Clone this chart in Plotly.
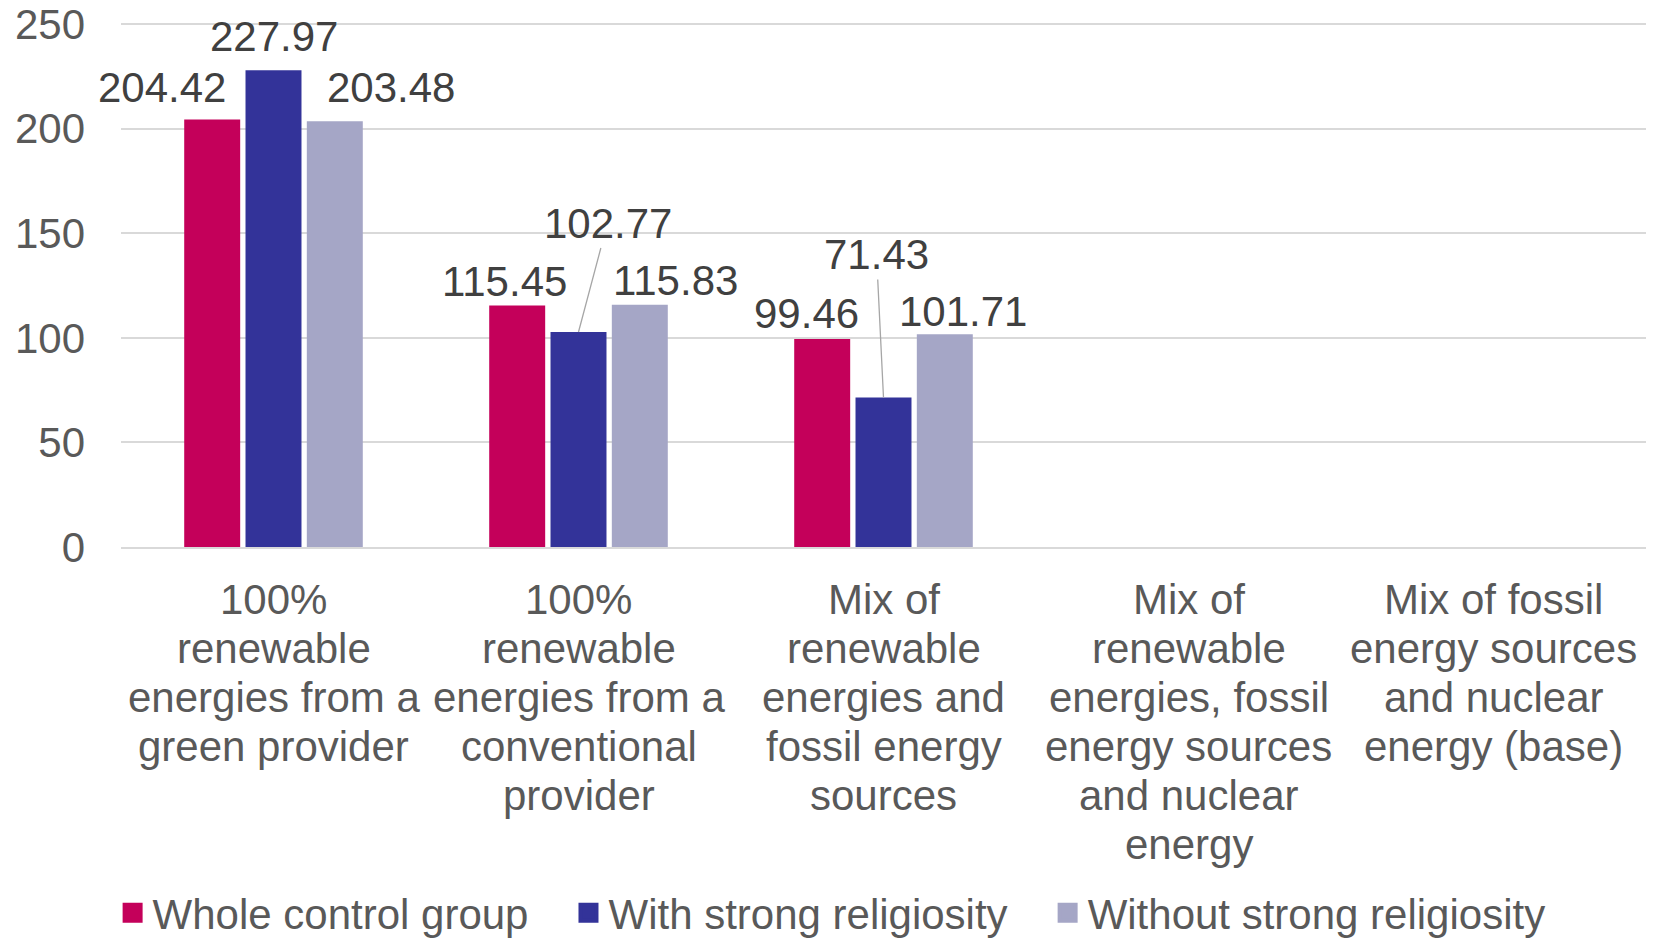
import plotly.graph_objects as go

CATEGORIES = [
    "100%<br>renewable<br>energies from a<br>green provider",
    "100%<br>renewable<br>energies from a<br>conventional<br>provider",
    "Mix of<br>renewable<br>energies and<br>fossil energy<br>sources",
    "Mix of<br>renewable<br>energies, fossil<br>energy sources<br>and nuclear<br>energy",
    "Mix of fossil<br>energy sources<br>and nuclear<br>energy (base)",
]
SERIES = ["Whole control group", "With strong religiosity", "Without strong religiosity"]
WHOLE = [204.42, 115.45, 99.46, None, None]
STRONG = [227.97, 102.77, 71.43, None, None]
WITHOUT = [203.48, 115.83, 101.71, None, None]
Y_TICKS = [0, 50, 100, 150, 200, 250]

COLORS = ["#C4005A", "#333399", "#A5A6C6"]
GRID = "#D9D9D9"
AXIS_TEXT = "#595959"
LABEL_TEXT = "#404040"
FONT = "Liberation Sans, Arial, sans-serif"
FS = 42

# label offsets (px) from each bar top: (dx, dy, leader line)
LABEL_OFFSETS = [
    [(-50, 32, False), (0, 34, False), (56, 34, False)],
    [(-13, 24, False), (29, 109, True), (36, 24, False)],
    [(-16, 25, False), (-7, 143, True), (18, 23, False)],
]

SLOT = 0.201  # category units per bar slot (bargap 0.397)
LEGEND_PAD = "\u00a0\u00a0\u00a0"  # extra room between legend entries

fig = go.Figure()
for name, vals, col in zip(SERIES, [WHOLE, STRONG, WITHOUT], COLORS):
    fig.add_trace(go.Bar(x=CATEGORIES, y=vals, name=name, marker=dict(color=col, line=dict(width=0)),
                         showlegend=False))
    # legend proxy with a bigger square
    fig.add_trace(go.Scatter(x=[None], y=[None], mode="markers", name=name + LEGEND_PAD,
                             marker=dict(symbol="square", size=16, color=col, line=dict(color=col, width=4))))

for i in range(3):
    for k, vals in enumerate([WHOLE, STRONG, WITHOUT]):
        v = vals[i]
        dx, dy, leader = LABEL_OFFSETS[i][k]
        xpos = i + (k - 1) * SLOT
        if leader:
            fig.add_annotation(x=xpos, y=v, text=f"{v:.2f}", showarrow=True, ax=dx, ay=-dy,
                               arrowhead=0, arrowwidth=1.3, arrowcolor="#A6A6A6", standoff=0,
                               font=dict(size=FS, color=LABEL_TEXT, family=FONT))
        else:
            fig.add_annotation(x=xpos, y=v, text=f"{v:.2f}", showarrow=False,
                               xanchor="center", yanchor="middle", xshift=dx, yshift=dy,
                               font=dict(size=FS, color=LABEL_TEXT, family=FONT))

# category labels, one line each to get the tight Excel line spacing
for i, cat in enumerate(CATEGORIES):
    for j, line in enumerate(cat.split("<br>")):
        fig.add_annotation(x=i, y=0, yref="paper", text=line, showarrow=False,
                           xanchor="center", yanchor="middle", yshift=-(52 + 49 * j),
                           font=dict(size=FS, color=AXIS_TEXT, family=FONT))

# page body has an 8px margin, so the figure is 8px smaller each way
fig.update_layout(
    width=1648, height=931,
    margin=dict(l=113, r=10, t=15, b=392, autoexpand=False),
    plot_bgcolor="white", paper_bgcolor="white",
    barmode="group", bargap=0.397, bargroupgap=0.087,
    font=dict(family=FONT, size=FS, color=AXIS_TEXT),
    legend=dict(orientation="h", x=-0.0055, xanchor="left", y=-0.6985, yanchor="middle",
                font=dict(size=FS, color=AXIS_TEXT, family=FONT), itemsizing="trace"),
    xaxis=dict(showticklabels=False, showline=True, linecolor=GRID, linewidth=2,
               showgrid=False, categoryorder="array", categoryarray=CATEGORIES,
               range=[-0.5, 4.5], automargin=False),
    yaxis=dict(range=[0, 250.5], tickvals=Y_TICKS, gridcolor=GRID, gridwidth=2,
               zeroline=False, showline=False, ticklabelstandoff=35, automargin=False,
               ticklabeloverflow="allow",
               tickfont=dict(size=FS, color=AXIS_TEXT, family=FONT)),
)

fig.write_html("out.html")
